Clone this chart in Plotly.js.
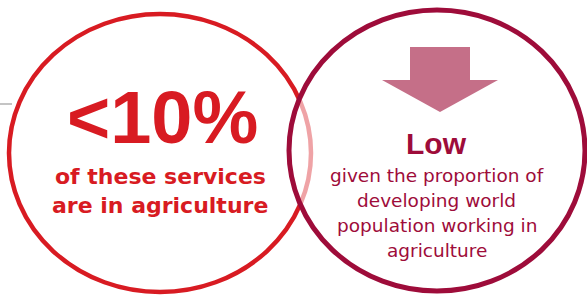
<!DOCTYPE html>
<html>
<head>
<meta charset="utf-8">
<script src="https://cdn.plot.ly/plotly-3.0.1.min.js"></script>
<style>html,body{margin:0;padding:0;background:#fff;}#chart{width:587px;height:295px;}</style>
</head>
<body>
<div id="chart"></div>
<script>
// Content of the two circles
const headlines = ["<10%", "Low"];
const leftLines = ["of these services", "are in agriculture"];
const rightLines = ["given the proportion of", "developing world", "population working in", "agriculture"];

const RED = "#D81B22";
const CRIMSON = "#9E0C3A";
const ARROW = "#C56F88";

// layout helpers in pixel coordinates of the 587x295 canvas (axes map 1:1)
const shapes = [
  // grey rule on the left
  {type: "line", xref: "x", yref: "y", x0: 0, x1: 12, y0: 104, y1: 104,
   line: {color: "#C4C4C4", width: 2}, layer: "above"},
  // left circle
  {type: "circle", xref: "x", yref: "y", x0: 9, x1: 311, y0: 14, y1: 292,
   line: {color: RED, width: 4.5}, fillcolor: "rgba(0,0,0,0)", layer: "above"},
  // right circle veil (turns the overlapped red arc pink)
  {type: "circle", xref: "x", yref: "y", x0: 289, x1: 585, y0: 10, y1: 291,
   line: {width: 0}, fillcolor: "rgba(255,255,255,0.6)", layer: "above"},
  // right circle outline
  {type: "circle", xref: "x", yref: "y", x0: 289, x1: 585, y0: 10, y1: 291,
   line: {color: CRIMSON, width: 5}, fillcolor: "rgba(0,0,0,0)", layer: "above"},
  // down arrow
  {type: "path", xref: "x", yref: "y",
   path: "M 410 47 L 470 47 L 470 80 L 498 80 L 440 112 L 382 80 L 410 80 Z",
   line: {width: 0}, fillcolor: ARROW, layer: "above"}
];

const annotations = [];
annotations.push({text: headlines[0], x: 162, y: 117.5, xref: "x", yref: "y",
  showarrow: false, xanchor: "center", yanchor: "middle",
  font: {family: "Liberation Sans, Arial, sans-serif", size: 74, color: RED, weight: 700}});
leftLines.forEach((t, i) => annotations.push({text: t, x: 160, y: 176.4 + i * 29, xref: "x", yref: "y",
  showarrow: false, xanchor: "center", yanchor: "middle",
  font: {family: "DejaVu Sans, sans-serif", size: 22, color: RED, weight: 700}}));
annotations.push({text: headlines[1], x: 436, y: 143.6, xref: "x", yref: "y",
  showarrow: false, xanchor: "center", yanchor: "middle",
  font: {family: "Liberation Sans, Arial, sans-serif", size: 30, color: CRIMSON, weight: 700}});
rightLines.forEach((t, i) => annotations.push({text: t, x: 436.5, y: 175.6 + i * 25, xref: "x", yref: "y",
  showarrow: false, xanchor: "center", yanchor: "middle",
  font: {family: "DejaVu Sans, sans-serif", size: 18.5, color: CRIMSON}}));

const layout = {
  width: 587, height: 295,
  margin: {l: 0, r: 0, t: 0, b: 0, pad: 0},
  paper_bgcolor: "#ffffff", plot_bgcolor: "#ffffff",
  xaxis: {range: [0, 587], visible: false, fixedrange: true},
  yaxis: {range: [295, 0], visible: false, fixedrange: true},
  showlegend: false,
  shapes: shapes,
  annotations: annotations
};

Plotly.newPlot("chart", [], layout, {displayModeBar: false, staticPlot: true});
</script>
</body>
</html>
